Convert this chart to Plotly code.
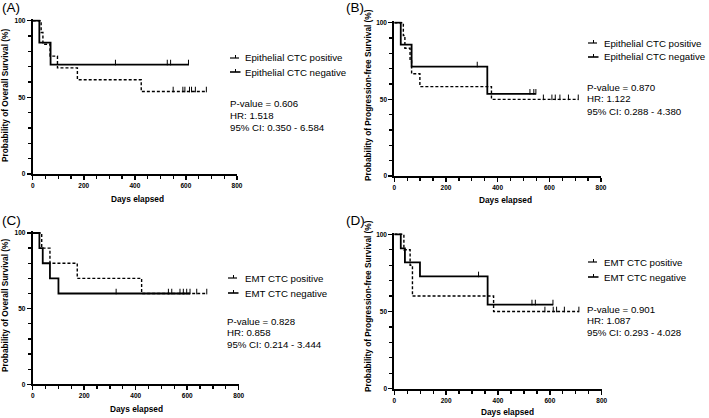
import plotly.graph_objects as go

W, H = 709, 418

# ---------------- data ----------------
x_tick_vals = [0, 200, 400, 600, 800]
y_tick_vals = [0, 50, 100]

# (A) Overall survival, epithelial CTC
A_pos_drop_days = [33, 40, 68, 97, 175, 425]
A_pos_levels = [92.3, 84.6, 76.9, 69.2, 61.5, 53.8]
A_pos_end = 680
A_pos_censor = [550, 588, 596, 614, 622, 637, 680]
A_neg_drop_days = [26, 70]
A_neg_levels = [85.7, 71.4]
A_neg_end = 610
A_neg_censor = [324, 527, 540, 610]

# (B) Progression-free survival, epithelial CTC
B_pos_drop_days = [35, 41, 61, 67, 99, 376]
B_pos_levels = [91.7, 83.3, 75.0, 66.7, 58.3, 50.0]
B_pos_end = 712
B_pos_censor = [577, 610, 623, 641, 674, 712]
B_neg_drop_days = [25, 67, 360]
B_neg_levels = [85.7, 71.4, 53.6]
B_neg_end = 548
B_neg_censor = [321, 525, 540, 548]

# (C) Overall survival, EMT CTC
C_pos_drop_days = [35, 67, 173, 423]
C_pos_levels = [90.0, 80.0, 70.0, 60.0]
C_pos_end = 676
C_pos_censor = [572, 585, 598, 637, 676]
C_neg_drop_days = [26, 39, 67, 100]
C_neg_levels = [90.0, 80.0, 70.0, 60.0]
C_neg_end = 611
C_neg_censor = [324, 527, 540, 611]

# (D) Progression-free survival, EMT CTC
D_pos_drop_days = [37, 61, 70, 383]
D_pos_levels = [90.0, 80.0, 60.0, 50.0]
D_pos_end = 712
D_pos_censor = [581, 613, 626, 656, 712]
D_neg_drop_days = [25, 41, 99, 360]
D_neg_levels = [90.9, 81.8, 72.7, 54.5]
D_neg_end = 612
D_neg_censor = [325, 531, 544, 612]

panel_letters = ["(A)", "(B)", "(C)", "(D)"]
y_titles = ["Probability of Overall Survival (%)",
            "Probability of Progression-free Survival (%)",
            "Probability of Overall Survival (%)",
            "Probability of Progression-free Survival (%)"]
x_title = "Days elapsed"
legend_labels = [["Epithelial CTC positive", "Epithelial CTC negative"],
                 ["Epithelial CTC positive", "Epithelial CTC negative"],
                 ["EMT CTC positive", "EMT CTC negative"],
                 ["EMT CTC positive", "EMT CTC negative"]]
stats_text = [["P-value = 0.606", "HR: 1.518", "95% CI: 0.350 - 6.584"],
              ["P-value = 0.870", "HR: 1.122", "95% CI: 0.288 - 4.380"],
              ["P-value = 0.828", "HR: 0.858", "95% CI: 0.214 - 3.444"],
              ["P-value = 0.901", "HR: 1.087", "95% CI: 0.293 - 4.028"]]

# ---------------- layout geometry (pixels) ----------------
# left, right, top(y=100), bottom(y=0)
panels_px = [
    (32.7, 237.0, 20.7, 174.0),
    (394.3, 601.0, 22.7, 176.0),
    (32.7, 238.7, 233.0, 384.3),
    (394.3, 601.7, 234.3, 388.7),
]
letter_px = [(1, 8), (345, 8), (1, 220), (345, 220)]
legend_px = [(230, 244, 58, 72), (588, 603, 43, 57), (228, 244, 278, 293), (588, 603, 262, 277)]
stats_px = [(229, 103, 12.3), (586, 87, 12), (226, 321, 11.6), (586, 309, 11.8)]
ytitle_px = [(5, 96), (368, 95), (5, 306), (368, 306)]
xtitle_px = [(137, 199), (505, 200), (136, 409), (507, 412)]

FONT = "Liberation Sans, Arial, sans-serif"
Y_TOP = 101.0

def px_x(p):
    return p / W

def px_y(p):
    return 1 - p / H

def level_at(t, drop_days, levels):
    v = 100.0
    for d, l in zip(drop_days, levels):
        if t >= d:
            v = l
    return v

curves = [
    (A_pos_drop_days, A_pos_levels, A_pos_end, A_pos_censor, A_neg_drop_days, A_neg_levels, A_neg_end, A_neg_censor),
    (B_pos_drop_days, B_pos_levels, B_pos_end, B_pos_censor, B_neg_drop_days, B_neg_levels, B_neg_end, B_neg_censor),
    (C_pos_drop_days, C_pos_levels, C_pos_end, C_pos_censor, C_neg_drop_days, C_neg_levels, C_neg_end, C_neg_censor),
    (D_pos_drop_days, D_pos_levels, D_pos_end, D_pos_censor, D_neg_drop_days, D_neg_levels, D_neg_end, D_neg_censor),
]

fig = go.Figure()
layout = dict(
    width=W, height=H, margin=dict(l=0, r=0, t=0, b=0, pad=0, autoexpand=False),
    paper_bgcolor="white", plot_bgcolor="white", showlegend=False,
    font=dict(family=FONT, color="black"),
)
annotations = []
shapes = []

for i, (pd_, pl, pe, pc, nd, nl, ne, nc) in enumerate(curves):
    xa = "x" if i == 0 else f"x{i+1}"
    ya = "y" if i == 0 else f"y{i+1}"
    left, right, top100, bottom0 = panels_px[i]
    pxper = (bottom0 - top100) / 100.0
    top = top100 - (Y_TOP - 100) * pxper

    for drop, lev, end, cens, dash, width in [(pd_, pl, pe, pc, "3px,2px", 1.4), (nd, nl, ne, nc, "solid", 1.8)]:
        xs = [0] + list(drop) + [end]
        ys = [100.0] + list(lev) + [lev[-1]]
        fig.add_trace(go.Scatter(x=xs, y=ys, mode="lines", line=dict(color="black", width=width, dash=dash, shape="hv"),
                                 xaxis=xa, yaxis=ya, hoverinfo="skip"))
        fig.add_trace(go.Scatter(x=cens, y=[level_at(t, drop, lev) + 1.3 for t in cens], mode="markers",
                                 marker=dict(symbol="line-ns", size=4, line=dict(color="black", width=1)),
                                 xaxis=xa, yaxis=ya, hoverinfo="skip", cliponaxis=False))

    xkey = "xaxis" if i == 0 else f"xaxis{i+1}"
    ykey = "yaxis" if i == 0 else f"yaxis{i+1}"
    layout[xkey] = dict(
        domain=[px_x(left), px_x(right)], anchor=ya, range=[0, 800], automargin=False,
        tickmode="array", tickvals=x_tick_vals, ticktext=[str(v) for v in x_tick_vals],
        ticks="outside", ticklen=4, tickwidth=1.5, tickcolor="black",
        showline=True, linewidth=2, linecolor="black", showgrid=False, zeroline=False,
        tickfont=dict(family=FONT, size=6.5, color="black", weight="bold"),
        minor=dict(dtick=50, tick0=0, ticks="outside", ticklen=3, tickwidth=1.3, tickcolor="black", showgrid=False),
    )
    layout[ykey] = dict(
        domain=[px_y(bottom0), px_y(top)], anchor=xa, range=[0, Y_TOP], automargin=False,
        tickmode="array", tickvals=y_tick_vals, ticktext=[str(v) for v in y_tick_vals],
        ticks="outside", ticklen=4, tickwidth=1.5, tickcolor="black",
        showline=True, linewidth=2, linecolor="black", showgrid=False, zeroline=False,
        tickfont=dict(family=FONT, size=6.5, color="black", weight="bold"),
        minor=dict(dtick=10, tick0=0, ticks="outside", ticklen=3, tickwidth=1.3, tickcolor="black", showgrid=False),
    )

    # axis titles
    tx_, ty_ = ytitle_px[i]
    annotations.append(dict(text=y_titles[i], x=px_x(tx_), y=px_y(ty_), xref="paper", yref="paper",
                            xanchor="center", yanchor="middle", textangle=-90, showarrow=False, borderpad=0,
                            font=dict(family=FONT, size=8.3, color="black", weight="bold")))
    tx_, ty_ = xtitle_px[i]
    annotations.append(dict(text=x_title, x=px_x(tx_), y=px_y(ty_), xref="paper", yref="paper",
                            xanchor="center", yanchor="middle", showarrow=False, borderpad=0,
                            font=dict(family=FONT, size=8.3, color="black", weight="bold")))

    # panel letter
    lx, ly = letter_px[i]
    annotations.append(dict(text=panel_letters[i], x=px_x(lx), y=px_y(ly), xref="paper", yref="paper",
                            xanchor="left", yanchor="middle", showarrow=False, borderpad=0,
                            font=dict(family=FONT, size=13.5, color="black")))
    # legend
    sx, tx, y1, y2 = legend_px[i]
    for j, (yy, dash, width) in enumerate([(y1, "dash", 1.2), (y2, "solid", 1.6)]):
        shapes.append(dict(type="line", xref="paper", yref="paper", x0=px_x(sx), x1=px_x(sx + 10.5),
                           y0=px_y(yy), y1=px_y(yy), line=dict(color="black", width=width, dash=dash)))
        shapes.append(dict(type="line", xref="paper", yref="paper", x0=px_x(sx + 5.5), x1=px_x(sx + 5.5),
                           y0=px_y(yy), y1=px_y(yy - 3), line=dict(color="black", width=1)))
        annotations.append(dict(text=legend_labels[i][j], x=px_x(tx), y=px_y(yy), xref="paper", yref="paper",
                                xanchor="left", yanchor="middle", showarrow=False, borderpad=0,
                                font=dict(family=FONT, size=9.7, color="black")))
    # stats
    stx, sty, gap = stats_px[i]
    for k, line in enumerate(stats_text[i]):
        annotations.append(dict(text=line, x=px_x(stx), y=px_y(sty + k * gap), xref="paper", yref="paper",
                                xanchor="left", yanchor="middle", showarrow=False, borderpad=0,
                                font=dict(family=FONT, size=9.7, color="black")))

layout["annotations"] = annotations
layout["shapes"] = shapes
fig.update_layout(**layout)
fig.write_html("out.html", config={"displayModeBar": False, "staticPlot": True},
               post_script="document.body.style.margin='0';document.body.style.overflow='hidden';")
